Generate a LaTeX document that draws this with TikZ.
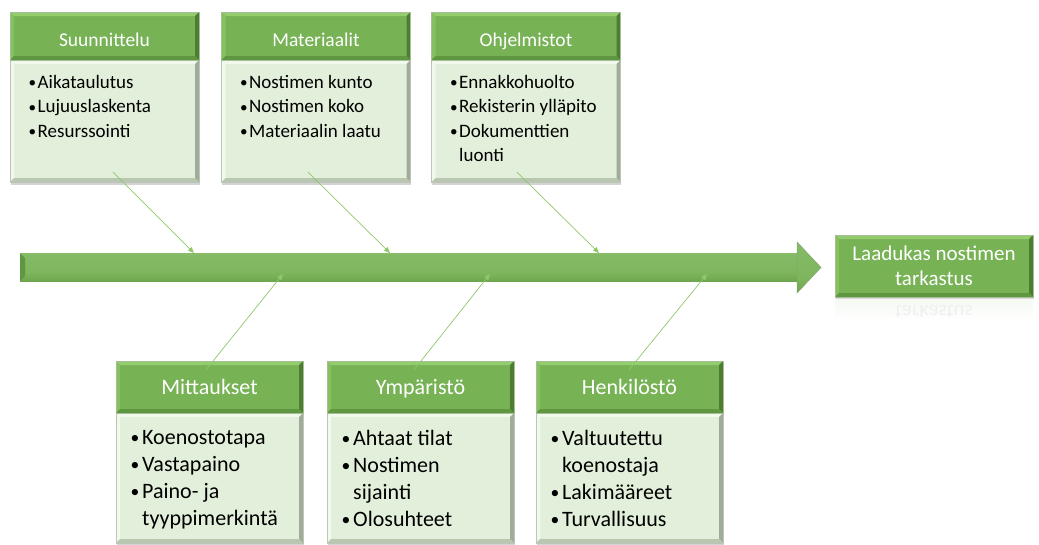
\documentclass[tikz,border=0pt]{standalone}
\usepackage{fontspec}
\usepackage{graphicx}
\setmainfont{Carlito}
\usetikzlibrary{calc,shadows,arrows.meta}
\definecolor{hdrgreen}{HTML}{77B255}
\definecolor{hdrlight}{HTML}{94CD6E}
\definecolor{hdrleft}{HTML}{86C160}
\definecolor{hdrdark}{HTML}{4E7D32}
\definecolor{hdrmid}{HTML}{5F9640}
\definecolor{bodyfill}{HTML}{E2EFDA}
\definecolor{bodylight}{HTML}{F1F8EC}
\definecolor{bodydark}{HTML}{B9C6B0}
\definecolor{bodyedge}{HTML}{A0AC99}
\definecolor{connc}{HTML}{8FC86A}
\pgfdeclareverticalshading{spineshade}{100bp}{color(0bp)=(hdrdark!85); color(12bp)=(hdrmid!90!hdrgreen); color(40bp)=(hdrgreen!95!white); color(72bp)=(hdrgreen!90!white); color(86bp)=(hdrlight!95!white); color(100bp)=(hdrlight!75!white)}
\newcommand\bdot{\raisebox{0.5pt}{\scalebox{0.8}{\textbullet}}}
\newcommand\tbul[1]{\makebox[9pt][l]{\bdot}#1}
\newcommand\tcon[1]{\hspace*{9pt}#1}
\newcommand\bbul[1]{\makebox[11.5pt][l]{\bdot}#1}
\newcommand\bcon[1]{\hspace*{11.5pt}#1}
\tikzset{
  bevel/.style n args={4}{path picture={
    \fill[#1] let \p1=(path picture bounding box.south west), \p2=(path picture bounding box.north east) in
      (\x1,\y2)--(\x2,\y2)--(\x2-4pt,\y2-4pt)--(\x1+4pt,\y2-4pt)--cycle;
    \fill[#2] let \p1=(path picture bounding box.south west), \p2=(path picture bounding box.north east) in
      (\x1,\y1)--(\x1,\y2)--(\x1+4pt,\y2-4pt)--(\x1+4pt,\y1+4pt)--cycle;
    \fill[#3] let \p1=(path picture bounding box.south west), \p2=(path picture bounding box.north east) in
      (\x2,\y1)--(\x2,\y2)--(\x2-4pt,\y2-4pt)--(\x2-4pt,\y1+4pt)--cycle;
    \fill[#4] let \p1=(path picture bounding box.south west), \p2=(path picture bounding box.north east) in
      (\x1,\y1)--(\x2,\y1)--(\x2-4pt,\y1+4pt)--(\x1+4pt,\y1+4pt)--cycle;
  }},
  hdr/.style={fill=hdrgreen, draw=hdrdark!50, line width=0.4pt, text=white, inner sep=0pt,
    bevel={hdrlight}{hdrleft}{hdrdark}{hdrmid}},
  tophdr/.style={hdr, minimum width=189pt, minimum height=48pt, text height=20pt, text depth=0pt,
    font=\fontsize{19.5}{23}\selectfont},
  bothdr/.style={hdr, minimum width=187pt, minimum height=52pt, text height=18pt, text depth=4pt,
    font=\fontsize{22}{26}\selectfont},
  bodybox/.style={fill=bodyfill, draw=bodyedge!70, line width=0.4pt, inner sep=0pt,
    bevel={bodylight}{bodylight}{bodyedge}{bodydark},
    drop shadow={shadow xshift=0.5pt, shadow yshift=-3pt, opacity=0.35}},
  topbody/.style={bodybox, minimum width=189pt, minimum height=122pt},
  botbody/.style={bodybox, minimum width=187pt, minimum height=130pt},
  toptxt/.style={anchor=north west, align=left, inner sep=0pt, text=black, font=\fontsize{19}{24.5}\selectfont},
  bottxt/.style={anchor=north west, align=left, inner sep=0pt, text=black, font=\fontsize{22}{27}\selectfont},
  conn/.style={draw=connc, line width=0.7pt, -{Triangle[length=6pt,width=5pt]}}
}
\begin{document}
\begin{tikzpicture}[x=1pt,y=-1pt]
\useasboundingbox (0,0) rectangle (1039,544);
% spine
\shade[shading=spineshade] (20,253) rectangle (797,281);
\fill[hdrmid] (20,253) -- (25,258) -- (25,276) -- (20,281) -- cycle;
\shade[shading=spineshade, draw=hdrdark!70, line width=0.5pt] (797,242) -- (821,267.5) -- (797,293) -- cycle;
\coordinate (sA) at (194,253);
\coordinate (sB) at (390,253);
\coordinate (sC) at (599,253);
\coordinate (sM) at (283,274);
\coordinate (sY) at (490,274);
\coordinate (sH) at (707,274);
% top boxes
\node[topbody] (bA) at (104.5,121) {};
\node[tophdr] (hA) at (104.5,36) {Suunnittelu};
\node[toptxt] (tA) at (28.5,75) {\tbul{Aikataulutus}\\\tbul{Lujuuslaskenta}\\\tbul{Resurssointi}};
\node[topbody] (bB) at (316,121) {};
\node[tophdr] (hB) at (316,36) {Materiaalit};
\node[toptxt] (tB) at (240,75) {\tbul{Nostimen kunto}\\\tbul{Nostimen koko}\\\tbul{Materiaalin laatu}};
\node[topbody] (bC) at (526,121) {};
\node[tophdr] (hC) at (526,36) {Ohjelmistot};
\node[toptxt] (tC) at (450,75) {\tbul{Ennakkohuolto}\\\tbul{Rekisterin ylläpito}\\\tbul{Dokumenttien}\\\tcon{luonti}};
% bottom boxes
\node[botbody] (bM) at (209.5,478) {};
\node[bothdr] (hM) at (209.5,387) {Mittaukset};
\node[bottxt] (tM) at (130.5,430) {\bbul{Koenostotapa}\\\bbul{Vastapaino}\\\bbul{Paino- ja}\\\bcon{tyyppimerkintä}};
\node[botbody] (bY) at (420.5,478) {};
\node[bothdr] (hY) at (420.5,387) {Ympäristö};
\node[bottxt] (tY) at (341.5,430) {\bbul{Ahtaat tilat}\\\bbul{Nostimen}\\\bcon{sijainti}\\\bbul{Olosuhteet}};
\node[botbody] (bH) at (629.5,478) {};
\node[bothdr] (hH) at (629.5,387) {Henkilöstö};
\node[bottxt] (tH) at (550.5,430) {\bbul{Valtuutettu}\\\bcon{koenostaja}\\\bbul{Lakimääreet}\\\bbul{Turvallisuus}};
% outcome
\node[hdr, minimum width=198pt, minimum height=62pt, align=center, font=\fontsize{21}{25}\selectfont,
  drop shadow={shadow xshift=0.5pt, shadow yshift=-2pt, opacity=0.3}] (out) at (934,266) {Laadukas nostimen\\tarkastus};
\shade[top color=hdrgreen!8, bottom color=white] (835,299) rectangle (1033,320);
\begin{scope}
\clip (835,299) rectangle (1033,316);
\node[yscale=-1, text=black!6, font=\fontsize{21}{25}\selectfont, inner sep=0pt] (refl) at (934,313) {tarkastus};
\end{scope}
% connectors
\draw[conn] ($(bA.south)+(8.5,-10)$) -- (sA);
\draw[conn] ($(bB.south)+(-8,-10)$) -- (sB);
\draw[conn] ($(bC.south)+(-9,-10)$) -- (sC);
\draw[conn] ($(hM.north)+(-3.5,9)$) -- (sM);
\draw[conn] ($(hY.north)+(-6.5,9)$) -- (sY);
\draw[conn] ($(hH.north)+(-0.5,9)$) -- (sH);
\end{tikzpicture}
\end{document}
